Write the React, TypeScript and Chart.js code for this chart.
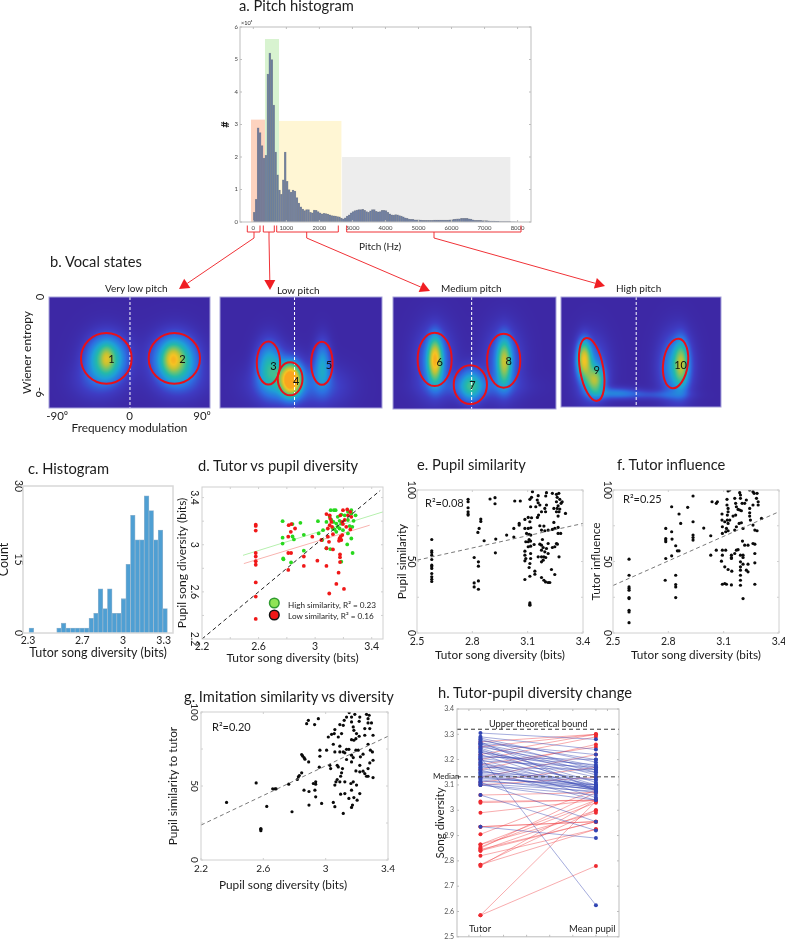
import React, { useEffect, useRef } from "react";
import { Chart, registerables } from "chart.js";
Chart.register(...registerables);

const FONT = "Lato, 'Open Sans', sans-serif";

// ---------- a. pitch histogram ----------
const pitchCounts = [.3,.7,2.9,2.75,2.35,1.97,2.05,4.55,5.2,5.0,3.6,2.15,1.45,.98,.85,1.3,2.15,1.25,1.0,.92,.98,.95,.75,.58,.47,.4,.35,.38,.38,.3,.28,.37,.36,.32,.28,.25,.27,.26,.24,.22,.2,.19,.18,.17,.16,.12,.1,.13,.18,.22,.28,.32,.35,.37,.38,.38,.39,.36,.32,.3,.34,.38,.38,.33,.31,.32,.36,.36,.35,.3,.25,.22,.21,.23,.22,.2,.18,.16,.13,.11,.09,.08,.08,.07,.07,.07,.06,.05,.05,.05,.05,.05,.05,.06,.06,.06,.06,.06,.06,.06,.06,.07,.07,.08,.09,.1,.1,.11,.11,.11,.11,.1,.09,.07,.05,.05,.05,.05,.04,.04,.04,.035,.03,.03,.025,.02,.02,.015,.015,.01,.01,.01,.01,.005,.005,.002];
const pitchBinStart = 30;
const pitchBinWidth = 58.6;
const pitchTicksX = [0,1000,2000,3000,4000,5000,6000,7000,8000];
const pitchTicksY = [0,1,2,3,4,5,6];
const pitchBands = [
  { from: -70, to: 353, top: 3.15, color: "#fdd3bf" },
  { from: 353, to: 778, top: 5.63, color: "#d8f3d0" },
  { from: 778, to: 2667, top: 3.11, color: "#fff6d4" },
  { from: 2687, to: 7780, top: 2.0, color: "#ededed" },
];

// ---------- b. vocal states: [cx, cy, sx, sy, peak]; ellipses: [cx, cy, rx, ry, tilt, label] ----------
const veryLowBlobs = [[-29,-3.85,15,.9,.5],[-29,-3.85,5,.5,.2],[-29,-3.9,22,1.3,.12],[56,-3.9,16,.95,.54],[53,-3.9,7,.55,.27],[56,-3.9,24,1.3,.12],[-45,-5.3,20,.8,.1],[65,-5.3,22,.8,.1]];
const lowBlobs = [[-40,-4.3,11,1.1,.4],[-13,-5.2,8,.65,.9],[-15,-5.0,14,1.0,.2],[26,-4.2,7,1.05,.33],[-25,-5.5,28,.9,.18],[30,-5.6,22,.9,.13]];
const mediumBlobs = [[-49,-3.9,6,.95,.72],[-5,-5.5,10,.75,.42],[36,-4,6,1.0,.56],[-50,-4,16,1.5,.25],[35,-4,16,1.5,.22],[0,-5.6,40,.5,.12]];
const highBlobs = [[-72,-3.9,6,.8,.7],[-58,-5.3,8,.6,.52],[-62,-4.6,14,1.4,.25],[50,-4.2,6,1.0,.46],[43,-4.4,14,1.4,.36],[-30,-6.1,20,.25,.25],[20,-6.2,25,.2,.12]];
const veryLowStates = [[-28.8,-3.87,31.5,1.6,0,"1"],[55.7,-3.87,31.9,1.6,0,"2"]];
const lowStates = [[-40.2,-4.16,14.4,1.36,0,"3"],[-13.4,-5.16,15.3,1.04,0,"4"],[25.8,-4.18,13.2,1.36,0,"5"]];
const mediumStates = [[-48.9,-3.9,20.9,1.67,0,"6"],[-5.1,-5.48,20.4,1.21,0,"7"],[35.8,-3.98,20.4,1.69,0,"8"]];
const highStates = [[-61.6,-4.61,14.6,2.03,-10,"9"],[43.2,-4.23,15.4,1.59,8,"10"]];
const heatStops = [[0,61,40,165],[.1,62,60,195],[.22,45,110,225],[.35,30,160,215],[.48,35,185,170],[.62,110,195,110],[.75,190,195,55],[.88,245,195,35],[1,250,165,30]];

// ---------- c. histogram ----------
const diversityCounts = [1,0,0,0,0,0,1,2,1,1,1,1,1,3,4,9,5,9,4,4,7,14,24,19,19,28,25,19,21,5];
const diversityBinStart = 2.3246;
const diversityBinWidth = 0.034;

// ---------- d. tutor vs pupil ----------
const highSimilarity = [[2.77,3.2],[2.84,3.175],[2.896,3.186],[3.02,3.2],[2.77,3.06],[2.77,3.01],[2.84,3.07],[2.85,3.045],[2.92,3.084],[3.025,3.096],[3.056,3.124],[3.05,3.04],[3.11,3.293],[3.133,3.293],[3.145,3.293],[3.08,3.194],[3.185,3.256],[3.115,3.21],[3.15,3.18],[3.16,3.152],[3.138,3.13],[3.185,3.18],[3.173,3.203],[3.256,3.293],[3.286,3.25],[3.272,3.203],[3.232,3.21],[3.209,3.25],[3.244,3.158],[3.263,3.152],[3.232,3.096],[3.256,3.053],[3.227,3.003],[3.08,2.97],[3.107,2.963],[3.265,2.93],[3.185,2.856],[2.92,2.95],[2.774,2.884],[2.776,2.876],[2.83,2.85],[3.126,3.138],[3.15,3.11],[3.173,3.138],[3.197,3.124],[3.103,3.237],[3.13,3.194],[3.16,3.237],[3.256,3.265],[3.232,3.279]];
const lowSimilarity = [[2.58,3.17],[2.58,3.16],[2.58,3.12],[2.58,2.93],[2.58,2.9],[2.58,2.86],[2.58,2.83],[2.58,2.68],[2.58,2.56],[2.58,2.37],[2.813,3.166],[2.832,3.175],[2.858,3.138],[2.81,3.068],[2.828,3.11],[2.92,2.9],[2.92,2.82],[2.81,2.93],[2.83,2.93],[2.81,2.786],[2.98,3.068],[3.016,2.865],[3.08,3.26],[3.103,3.25],[3.107,3.22],[3.115,3.194],[3.103,3.166],[3.09,3.138],[3.12,3.152],[3.126,3.09],[3.09,3.068],[3.098,3.025],[3.044,3.04],[3.08,2.97],[3.126,2.96],[3.173,3.053],[3.169,3.034],[3.185,3.04],[3.18,3.068],[3.192,3.082],[3.197,3.293],[3.227,3.3],[3.249,3.279],[3.178,3.25],[3.209,3.21],[3.197,3.175],[3.22,3.152],[3.192,3.194],[3.256,3.237],[3.232,3.25],[3.249,3.13],[3.176,2.918],[3.176,2.893],[3.176,2.853],[3.166,2.763],[3.15,2.667],[3.204,2.625],[3.1,2.586],[3.08,2.82]];
const diagonalLine = [[2.2,2.2],[3.46,3.46]];
const highFit = [[2.49,2.91],[3.48,3.279]];
const lowFit = [[2.496,2.84],[3.386,3.166]];

// ---------- e. pupil similarity ----------
const pupilSimilarity = [[2.58,65.4],[2.58,57.5],[2.58,56.3],[2.58,54.4],[2.58,51.4],[2.58,47.4],[2.58,46.3],[2.58,45.1],[2.58,41.6],[2.58,39.3],[2.58,37.6],[2.58,36],[2.777,93.5],[2.777,91.8],[2.777,87.6],[2.777,84.8],[2.777,83.2],[2.777,82.5],[2.846,79.7],[2.846,78],[2.837,73.1],[2.83,70.3],[2.864,64.5],[2.81,52.8],[2.81,35],[2.81,32.2],[2.833,36.4],[2.833,30.6],[2.833,49.8],[2.833,46.7],[2.896,93.7],[2.923,94.6],[2.923,90.4],[2.927,65.7],[2.925,56.1],[2.986,68.5],[3.025,67.1],[3.025,73.1],[3.054,76.6],[3.054,75.5],[3.03,92.3],[3.06,92.3],[3.126,98.8],[3.202,98.1],[3.234,97.7],[3.256,97],[3.269,97.7],[3.157,96],[3.112,93.5],[3.121,94.9],[3.152,93],[3.157,91.1],[3.198,95.8],[3.26,94.9],[3.274,93.5],[3.287,91.8],[3.281,90.7],[3.256,91.8],[3.265,89],[3.242,87.1],[3.26,87.1],[3.274,86.7],[3.202,89.5],[3.166,89.5],[3.144,88.3],[3.116,88.3],[3.193,87.1],[3.175,84.8],[3.197,84.8],[3.159,82.5],[3.153,80.8],[3.121,80.6],[3.103,80.8],[3.085,79.4],[3.256,84.8],[3.27,84.8],[3.305,83.6],[3.265,81.8],[3.112,77.8],[3.085,73.1],[3.103,73.1],[3.117,73.6],[3.094,69.6],[3.108,68.9],[3.117,68.5],[3.108,65.4],[3.09,63.8],[3.103,63.8],[3.116,64.3],[3.116,60.7],[3.103,60.3],[3.135,61.9],[3.166,62.1],[3.175,72],[3.193,71.5],[3.211,72],[3.234,72.4],[3.247,73.1],[3.265,73.8],[3.242,77.3],[3.188,74.8],[3.166,75],[3.265,69.6],[3.279,69.6],[3.256,62.6],[3.234,59.8],[3.211,62.6],[3.18,65.4],[3.175,61.4],[3.184,59.8],[3.202,59.1],[3.175,57.9],[3.193,56.8],[3.211,55.6],[3.175,53.3],[3.188,53.3],[3.184,50.9],[3.175,49.8],[3.198,52.8],[3.27,53.3],[3.085,57.2],[3.085,54.4],[3.09,52.1],[3.085,50.5],[3.116,55.6],[3.116,52.1],[3.112,48.6],[3.108,45.8],[3.157,53.3],[3.139,43.2],[3.112,39.7],[3.139,41.1],[3.085,37.4],[3.175,38.8],[3.188,36.9],[3.197,35.7],[3.211,35.3],[3.22,35.3],[3.247,40.9],[3.229,44.4],[3.112,21],[3.112,20],[3.112,19.4],[3.247,60.3],[3.261,62.1]];
const pupilSimilarityFit = [[2.5,50.9],[3.4,76.6]];

// ---------- f. tutor influence ----------
const tutorInfluence = [[2.587,51.6],[2.587,40.4],[2.587,32.2],[2.587,31.1],[2.587,29.9],[2.587,24.8],[2.587,24.1],[2.587,15.9],[2.587,14.7],[2.587,7.2],[2.786,73.1],[2.786,66.1],[2.786,65],[2.786,63.8],[2.786,52.1],[2.783,36.9],[2.818,88.3],[2.818,70.8],[2.82,65.7],[2.818,54],[2.84,61],[2.849,57.5],[2.858,57.5],[2.858,83.2],[2.867,76.6],[2.84,40.4],[2.84,33.9],[2.84,32.2],[2.84,24.8],[2.905,87.9],[2.934,95.8],[2.934,77.8],[2.934,68.5],[2.934,66.8],[2.934,65],[2.992,73.4],[3.03,68],[3.03,54.4],[3.037,91.8],[3.06,90.7],[3.066,91.8],[3.06,57.9],[3.124,99.3],[3.133,100],[3.118,93.5],[3.118,89.5],[3.124,87.1],[3.124,84.8],[3.12,82.5],[3.091,83.2],[3.091,79],[3.106,77.8],[3.12,79],[3.133,79],[3.124,76.6],[3.093,74.3],[3.115,73.1],[3.093,69.6],[3.111,70.8],[3.124,71.5],[3.16,94.2],[3.165,90.7],[3.169,88.3],[3.187,98.1],[3.191,96.5],[3.191,94.2],[3.223,93],[3.214,90.7],[3.2,90.7],[3.178,86.4],[3.187,86],[3.196,85.5],[3.165,82.5],[3.151,81.8],[3.169,74.3],[3.16,72],[3.184,76.6],[3.196,77.1],[3.205,73.1],[3.241,100],[3.259,98.8],[3.265,97.7],[3.281,97.7],[3.278,94.2],[3.287,91.8],[3.287,89.5],[3.241,87.1],[3.241,84.1],[3.241,81.8],[3.245,79],[3.259,89.5],[3.259,75.5],[3.269,72],[3.281,71.5],[3.305,80.1],[3.202,64.3],[3.214,61.4],[3.232,61.4],[3.259,62.6],[3.269,62.1],[3.269,55.6],[3.093,57.9],[3.111,57.9],[3.093,54.4],[3.088,50.2],[3.106,46.3],[3.124,44.4],[3.144,43.2],[3.142,54.4],[3.142,52.8],[3.142,52.1],[3.169,57.9],[3.178,58.3],[3.191,54.4],[3.205,54.4],[3.191,49.8],[3.191,46.3],[3.191,43.9],[3.191,40.4],[3.191,36.9],[3.191,33.4],[3.093,34.1],[3.106,34.6],[3.115,34.1],[3.142,33.6],[3.205,48.1],[3.232,48.1],[3.223,43.9],[3.232,42.8],[3.269,49.1],[3.269,34.1],[3.205,24.1],[3.16,55.6],[3.205,52.8]];
const tutorInfluenceFit = [[2.5,33.2],[3.4,84.8]];

// ---------- g. imitation similarity ----------
const imitationSimilarity = [[2.364,38.9],[2.554,52.1],[2.622,36.2],[2.584,21.3],[2.584,20.7],[2.584,19.8],[2.66,48.1],[2.675,48.1],[2.682,48.1],[2.763,51.2],[2.784,32.6],[2.818,54.4],[2.825,56.2],[2.831,57.1],[2.846,58.9],[2.846,71.2],[2.852,70.3],[2.861,69.2],[2.867,68.1],[2.891,66.3],[2.861,47.2],[2.893,46.3],[2.893,37.1],[2.878,92.1],[2.889,94.4],[2.929,91.5],[2.953,95.5],[2.921,51.7],[2.936,52.8],[2.936,51.2],[2.931,47.2],[2.936,42.7],[2.974,38.2],[2.959,62.7],[2.963,74.2],[2.963,70.1],[3.006,74.2],[3.151,99.6],[3.187,98.4],[3.262,98.4],[3.279,97.8],[3.134,96.6],[3.166,96.6],[3.219,96.6],[3.119,94.4],[3.166,93.3],[3.215,93.7],[3.272,95.5],[3.294,92.6],[3.272,92.6],[3.091,91.5],[3.113,91],[3.177,89.9],[3.181,87.6],[3.251,88.8],[3.283,88.8],[3.059,88.1],[3.038,84.9],[3.055,85.4],[3.081,83.1],[3.102,85.4],[3.198,85.4],[3.251,84.3],[3.304,84.3],[3.166,81.3],[3.181,80.9],[3.194,82],[3.215,83.6],[3.017,83.1],[3.049,78.2],[3.091,76.9],[3.134,74.8],[3.149,74.8],[3.059,73],[3.091,73],[3.113,73],[3.123,72.4],[3.194,74.2],[3.209,74.2],[3.287,74.2],[3.3,73],[3.272,78.2],[3.166,70.8],[3.177,69.2],[3.24,71.5],[3.223,69.7],[3.304,67.4],[3.283,65.6],[3.134,67.9],[3.166,66.3],[3.219,64],[3.027,64],[3.032,61.8],[3.074,64],[3.081,62.9],[3.108,61.8],[3.102,58.9],[3.096,56.6],[3.194,60.2],[3.219,59.6],[3.24,60],[3.251,58.4],[3.272,61.8],[3.262,56.6],[3.272,56.6],[3.304,55.7],[3.074,54.4],[3.066,52.8],[3.059,50.6],[3.091,52.8],[3.123,52.8],[3.162,51.7],[3.177,52.8],[3.198,50.6],[3.166,47.2],[3.219,44.9],[3.096,44.5],[3.123,44.9],[3.149,41.6],[3.181,42.2],[3.202,40.4],[3.172,37.1],[3.166,35.5],[3.049,38.9],[3.059,36],[3.113,31.5]];
const imitationFit = [[2.2,23.6],[3.4,83.6]];

// ---------- h. tutor to pupil change ----------
const tutorDiversity = [3.305,3.29,3.285,3.28,3.27,3.265,3.26,3.25,3.24,3.235,3.23,3.22,3.21,3.205,3.2,3.19,3.18,3.17,3.165,3.16,3.14,3.13,3.12,3.1,3.11,3.06,2.935,3.1,3.15,3.21,3.275,3.262,3.255,3.245,3.228,3.215,3.195,3.185,3.175,3.155,3.145,3.135,3.125,3.115,3.105,2.585,2.585,2.78,2.785,2.82,2.84,2.845,2.855,2.865,2.85,2.905,2.935,2.935,2.99,3.035,3.03,3.06,3.1,3.11,3.13,3.16,3.18,3.2,3.22,3.25,3.27,2.785,2.84,2.865];
const pupilDiversity = [3.28,3.24,3.19,3.16,3.08,3.22,3.15,3.17,3.09,3.13,3.1,3.08,2.625,3.15,3.08,3.05,3.1,3.16,3.09,3.04,3.08,3.09,3.07,3.04,2.955,2.92,2.89,3.06,3.12,3.2,3.2,3.175,3.14,3.11,3.16,3.18,3.17,3.12,3.09,3.085,3.1,3.08,3.1,3.085,3.075,2.78,3.035,3.04,2.925,2.925,2.955,2.955,3.03,3.04,3.07,3.08,2.955,2.955,3.04,3.04,3.04,3.07,3.13,3.17,3.22,3.26,3.25,3.29,3.3,3.3,3.3,3.0,3.0,2.99];
const upperBound = 3.32;
const medianDiversity = 3.132;
const songTicks = [2.5,2.6,2.7,2.8,2.9,3,3.1,3.2,3.3,3.4];

// ---------- plugins ----------
const framePlugin = {
  id: "frame",
  afterDatasetsDraw(chart: any, _a: any, o: any) {
    const { ctx, chartArea: a, scales } = chart;
    ctx.save();
    ctx.strokeStyle = o.color || "#c9c9c9";
    ctx.lineWidth = o.width || 1;
    ctx.strokeRect(a.left, a.top, a.right - a.left, a.bottom - a.top);
    const len = o.len || 0;
    ctx.beginPath();
    (o.xTicks || []).forEach((v: number) => {
      const p = scales.x.getPixelForValue(v);
      ctx.moveTo(p, a.bottom); ctx.lineTo(p, a.bottom - len);
      ctx.moveTo(p, a.top); ctx.lineTo(p, a.top + len);
    });
    (o.yTicks || []).forEach((v: number) => {
      const p = scales.y.getPixelForValue(v);
      ctx.moveTo(a.left, p); ctx.lineTo(a.left + len, p);
      ctx.moveTo(a.right, p); ctx.lineTo(a.right - len, p);
    });
    ctx.stroke();
    ctx.restore();
  },
};

const bandsPlugin = {
  id: "bands",
  beforeDatasetsDraw(chart: any, _a: any, o: any) {
    const { ctx, scales } = chart;
    (o.items || []).forEach((b: any) => {
      const l = scales.x.getPixelForValue(b.from), r = scales.x.getPixelForValue(b.to);
      const t = scales.y.getPixelForValue(b.top), z = scales.y.getPixelForValue(0);
      ctx.fillStyle = b.color;
      ctx.fillRect(l, t, r - l, z - t);
    });
  },
};

function heatColor(v: number) {
  const t = Math.min(1, Math.max(0, v));
  for (let i = 1; i < heatStops.length; i++) {
    if (t <= heatStops[i][0]) {
      const a = heatStops[i - 1], b = heatStops[i];
      const f = (t - a[0]) / (b[0] - a[0]);
      return [a[1] + (b[1] - a[1]) * f, a[2] + (b[2] - a[2]) * f, a[3] + (b[3] - a[3]) * f];
    }
  }
  return heatStops[heatStops.length - 1].slice(1);
}

const heatPlugin = {
  id: "heat",
  beforeDatasetsDraw(chart: any, _a: any, o: any) {
    const { ctx, chartArea: a, scales } = chart;
    const left = Math.round(a.left), top = Math.round(a.top);
    const w = Math.round(a.right - a.left), h = Math.round(a.bottom - a.top);
    const img = ctx.createImageData(w, h);
    for (let j = 0; j < h; j++) {
      const vy = scales.y.getValueForPixel(top + j);
      for (let i = 0; i < w; i++) {
        const vx = scales.x.getValueForPixel(left + i);
        let v = 0;
        for (const b of o.blobs) {
          const dx = (vx - b[0]) / b[2], dy = (vy - b[1]) / b[3];
          v += b[4] * Math.exp(-0.5 * (dx * dx + dy * dy));
        }
        const c = heatColor(v);
        const k = (j * w + i) * 4;
        img.data[k] = c[0]; img.data[k + 1] = c[1]; img.data[k + 2] = c[2]; img.data[k + 3] = 255;
      }
    }
    ctx.putImageData(img, left, top);
    const dashX = scales.x.getPixelForValue(o.center);
    ctx.save();
    ctx.strokeStyle = "#ffffff";
    ctx.lineWidth = 1;
    ctx.setLineDash([3, 2]);
    ctx.beginPath(); ctx.moveTo(dashX, a.top); ctx.lineTo(dashX, a.bottom); ctx.stroke();
    ctx.setLineDash([]);
    for (const e of o.states) {
      const px = scales.x.getPixelForValue(e[0]), py = scales.y.getPixelForValue(e[1]);
      const rx = Math.abs(scales.x.getPixelForValue(e[0] + e[2]) - px);
      const ry = Math.abs(scales.y.getPixelForValue(e[1] + e[3]) - py);
      ctx.strokeStyle = "#e8101a";
      ctx.lineWidth = 2;
      ctx.beginPath();
      ctx.ellipse(px, py, rx, ry, (e[4] * Math.PI) / 180, 0, Math.PI * 2);
      ctx.stroke();
      ctx.fillStyle = "#111";
      ctx.font = `11px ${FONT}`;
      ctx.textAlign = "center";
      ctx.textBaseline = "middle";
      ctx.fillText(e[5], px + numberShift(e[5]), py + numberShiftY(e[5]));
    }
    ctx.restore();
  },
};
function numberShift(l: string) { return ({ "1": 5, "2": 8, "3": 5, "4": 6, "5": 7, "6": 5, "7": 2, "8": 5, "9": 5, "10": 5 } as any)[l] || 0; }
function numberShiftY(l: string) { return ({ "1": 1, "2": 1, "3": 3, "4": 3, "5": 2, "6": 3, "7": 1, "8": 1, "9": 1, "10": 2 } as any)[l] || 0; }

// ---------- helpers ----------
const pairs = (list: number[][]) => list.map(([x, y]) => ({ x, y }));
const fmt = (v: any) => String(v);

function axis(min: number, max: number, ticks: number[], o: any) {
  return {
    type: "linear", min, max, offset: false,
    grid: { display: false, drawTicks: false },
    border: { display: false },
    ticks: {
      autoSkip: false,
      font: { family: FONT, size: o.size || 11 },
      color: o.color || "#222",
      padding: o.pad ?? 2,
      minRotation: o.rot || 0, maxRotation: o.rot || 0,
      crossAlign: o.rot ? "center" : "near",
      display: o.hideTicks ? false : true,
      callback: o.label || fmt,
    },
    afterBuildTicks: (s: any) => { s.ticks = ticks.map((value) => ({ value })); },
    afterFit: (s: any) => { if (s.isHorizontal()) s.height = o.fixed; else s.width = o.fixed; },
    title: o.title
      ? { display: true, text: o.title, font: { family: FONT, size: o.titleSize || 12, weight: o.titleWeight || "normal" }, color: "#1c1c1c", padding: 0 }
      : { display: false },
  };
}

function base(x: any, y: any, plugins: any) {
  return {
    responsive: false, maintainAspectRatio: false, animation: false,
    layout: { padding: { top: 12, right: 28, left: 0, bottom: 0 } },
    scales: { x, y },
    plugins: { legend: { display: false }, tooltip: { enabled: false }, ...plugins },
  };
}

function Panel({ box, axL, axB, make }: any) {
  const ref = useRef<HTMLCanvasElement | null>(null);
  const width = box.r - box.l + axL + 28;
  const height = box.b - box.t + axB + 12;
  useEffect(() => {
    const chart = new Chart(ref.current as any, make(axL, axB));
    return () => chart.destroy();
  }, []);
  return (
    <canvas ref={ref} width={width} height={height}
      style={{ position: "absolute", left: box.l - axL, top: box.t - 12, width, height, display: "block" }} />
  );
}

const dots = (list: number[][], color: string, r = 1.7) => ({
  type: "scatter", data: pairs(list), backgroundColor: color, borderWidth: 0, pointRadius: r,
});
const dashLine = (list: number[][], color: string, dash = [4, 3], w = 1) => ({
  type: "scatter", data: pairs(list), showLine: true, borderColor: color, borderWidth: w, borderDash: dash, pointRadius: 0,
});

// ---------- chart configs ----------
const makePitch = (axL: number, axB: number) => ({
  type: "bar",
  plugins: [bandsPlugin, framePlugin],
  data: {
    datasets: [{
      data: pitchCounts.map((y, i) => ({ x: pitchBinStart + i * pitchBinWidth, y })),
      backgroundColor: "rgba(62,88,150,0.58)", borderColor: "rgba(125,130,135,0.75)", borderWidth: 0.5,
      barPercentage: 1, categoryPercentage: 1,
    }],
  },
  options: base(
    axis(-403, 8406, pitchTicksX, { size: 6, color: "#444", pad: 2, fixed: axB }),
    axis(0, 6, pitchTicksY, { size: 6, color: "#444", pad: 2, fixed: axL, title: "#", titleSize: 11, titleWeight: "bold" }),
    { bands: { items: pitchBands }, frame: { color: "#bdbdbd", width: 1, len: 2, xTicks: pitchTicksX, yTicks: pitchTicksY } }),
});

const makeHeat = (blobs: any, states: any, center: number, withAxes: boolean) => (axL: number, axB: number) => ({
  type: "scatter",
  plugins: [heatPlugin, framePlugin],
  data: { datasets: [] },
  options: base(
    axis(-100, 100, withAxes ? [-90, 0, 90] : [], {
      size: 11.5, pad: 1, fixed: axB, hideTicks: !withAxes,
      label: (v: number) => (v === 0 ? "0" : `${v}\u2070`),
      title: withAxes ? "Frequency modulation" : undefined, titleSize: 11.8,
    }),
    axis(-7, 0, withAxes ? [-6, 0] : [], {
      size: 11, rot: -90, pad: 4, fixed: axL, hideTicks: !withAxes,
      title: withAxes ? "Wiener entropy" : undefined, titleSize: 12,
    }),
    { heat: { blobs, states, center }, frame: { color: "#a6a1da", width: 1 } }),
});

const makeHistogram = (axL: number, axB: number) => ({
  type: "bar",
  plugins: [framePlugin],
  data: {
    datasets: [{
      data: diversityCounts.map((y, i) => ({ x: diversityBinStart + i * diversityBinWidth, y })),
      backgroundColor: "#4f9fd3", borderColor: "#8fb4cf", borderWidth: 0.8, barPercentage: 1, categoryPercentage: 1,
    }],
  },
  options: base(
    axis(2.263, 3.369, [2.3, 2.7, 3, 3.3], { size: 10.5, pad: 1, fixed: axB, title: "Tutor song diversity (bits)", titleSize: 12.5 }),
    axis(0, 30, [0, 15, 30], { size: 10.5, rot: -90, pad: -1, fixed: axL, title: "Count", titleSize: 12.5 }),
    { frame: { color: "#d8d8d8", width: 1.5 } }),
});

const makeTutorPupil = (axL: number, axB: number) => ({
  type: "scatter",
  plugins: [framePlugin],
  data: {
    datasets: [
      dashLine(diagonalLine, "#222"),
      dots(lowSimilarity, "#f01818", 1.9),
      dots(highSimilarity, "#28d81e", 1.9),
      dashLine(highFit, "#b6f0ae", [], 1),
      dashLine(lowFit, "#f8b4b0", [], 1),
    ],
  },
  options: base(
    axis(2.2, 3.48, [2.2, 2.6, 3, 3.4], { size: 10.5, pad: 1.5, fixed: axB, title: "Tutor song diversity (bits)" }),
    axis(2.2, 3.49, [2.2, 2.6, 3, 3.4], { size: 10.5, rot: -90, pad: 0, fixed: axL, title: "Pupil song diversity (bits)" }),
    { frame: { color: "#d0d0d0", width: 1, len: 2, xTicks: [2.4, 2.6, 2.8, 3, 3.2, 3.4], yTicks: [2.4, 2.6, 2.8, 3, 3.2, 3.4] } }),
});

const makeSimilarity = (points: number[][], fit: number[][], yTitle: string, size = 10.5, xTitle?: string, xr = [2.5, 3.4], xt = [2.5, 2.8, 3.1, 3.4], pad = -4) => (axL: number, axB: number) => ({
  type: "scatter",
  plugins: [framePlugin],
  data: { datasets: [dashLine(fit, "#6a6a6a", [4, 3], 0.9), dots(points, "#0a0a0a", 1.6)] },
  options: base(
    axis(xr[0], xr[1], xt, { size, pad: 2.5, fixed: axB, title: xTitle, titleSize: 11.8 }),
    axis(0, 100, [0, 50, 100], { size, rot: -90, pad, fixed: axL, title: yTitle, titleSize: 11.8 }),
    { frame: { color: "#d0d0d0", width: 1, len: 2, xTicks: xt, yTicks: [0, 25, 50, 75, 100] } }),
});

const makeChange = (axL: number, axB: number) => ({
  type: "scatter",
  plugins: [framePlugin],
  data: {
    datasets: [
      dashLine([[-0.203, upperBound], [1.2, upperBound]], "#333", [4, 3], 1),
      dashLine([[-0.203, medianDiversity], [1.2, medianDiversity]], "#444", [4, 3], 1),
      ...tutorDiversity.map((t, i) => {
        const rising = pupilDiversity[i] > t;
        return {
          type: "scatter", showLine: true,
          data: [{ x: 0, y: t }, { x: 1, y: pupilDiversity[i] }],
          borderColor: rising ? "rgba(240,70,75,0.5)" : "rgba(55,70,180,0.5)",
          borderWidth: 0.9, pointRadius: 2,
          backgroundColor: rising ? "#ee2a30" : "#3246b4", pointBorderWidth: 0,
        };
      }),
    ],
  },
  options: base(
    axis(-0.203, 1.2, [], { fixed: axB, hideTicks: true }),
    axis(2.5, 3.4, songTicks, { size: 7, color: "#555", pad: 3, fixed: axL, title: "Song diversity", titleSize: 11.5 }),
    { frame: { color: "#bdbdbd", width: 1, len: 2, xTicks: [-0.1, 0, 0.2, 0.4, 0.6, 0.8, 1, 1.1], yTicks: songTicks } }),
});

// ---------- page text ----------
const headings: [string, number, number, number][] = [
  ["a. Pitch histogram", 239, 6, 14.7],
  ["b. Vocal states", 50, 262, 14.7],
  ["c. Histogram", 28, 469, 14.7],
  ["d. Tutor vs pupil diversity", 198, 466, 14.7],
  ["e. Pupil similarity", 417, 465, 14.7],
  ["f. Tutor influence", 617, 465, 14.7],
  ["g. Imitation similarity vs diversity", 184, 697, 14.7],
  ["h. Tutor-pupil diversity change", 438, 693, 14.7],
];
const captions: [string, number, number, number][] = [
  ["\u00d710\u2074", 241, 23, 5.5],
  ["Pitch (Hz)", 359, 246, 10],
  ["Very low pitch", 105, 288, 10],
  ["Low pitch", 277, 290, 10],
  ["Medium pitch", 441, 288, 10],
  ["High pitch", 616, 288, 10],
  ["High similarity, R\u00b2 = 0.23", 288, 606, 8.2],
  ["Low similarity,  R\u00b2 = 0.16", 288, 617, 8.2],
  ["R\u00b2=0.08", 425, 503, 11],
  ["R\u00b2=0.25", 623, 499, 11],
  ["R\u00b2=0.20", 212, 727, 11],
  ["Pupil song diversity (bits)", 219, 885, 11.8],
  ["Upper theoretical bound", 489, 724, 9.2],
  ["Median", 433, 777, 8],
  ["Tutor", 469, 929, 9.5],
  ["Mean pupil", 569, 929, 9.5],
];
const brackets = [
  { l: 247.3, r: 260, m: 254, tip: [179, 289] },
  { l: 263.3, r: 274.3, m: 269, tip: [270, 290] },
  { l: 276.7, r: 338.3, m: 306.7, tip: [430, 291] },
  { l: 346.7, r: 521, m: 434, tip: [605, 286] },
];

function Overlay() {
  return (
    <svg width={785} height={944} style={{ position: "absolute", left: 0, top: 0, pointerEvents: "none" }}>
      {brackets.map((b, i) => {
        const dx = b.tip[0] - b.m, dy = b.tip[1] - 238;
        const n = Math.hypot(dx, dy), ux = dx / n, uy = dy / n;
        const bx = b.tip[0] - ux * 10, by = b.tip[1] - uy * 10;
        return (
          <g key={i}>
            <path d={`M${b.l} 225.5V232H${b.r}V225.5M${b.m} 232V238L${bx} ${by}`} fill="none" stroke="#f03237" strokeWidth={1} />
            <polygon points={`${b.tip[0]},${b.tip[1]} ${bx - uy * 5.5},${by + ux * 5.5} ${bx + uy * 5.5},${by - ux * 5.5}`} fill="#f01e23" />
          </g>
        );
      })}
      <circle cx={274.3} cy={603} r={4.8} fill="#8fe455" stroke="#2f9a30" strokeWidth={1.5} />
      <circle cx={274.3} cy={615} r={4.8} fill="#f01818" stroke="#111" strokeWidth={1.5} />
    </svg>
  );
}

export default function App() {
  const label = (t: any, i: number) => (
    <div key={i} style={{ position: "absolute", left: t[1], top: t[2], transform: "translateY(-50%)", fontFamily: FONT, fontSize: t[3], color: "#1c1c1c", whiteSpace: "nowrap", lineHeight: 1.2 }}>{t[0]}</div>
  );
  return (
    <div style={{ position: "absolute", left: 0, top: 0, width: 785, height: 944, background: "#fff", overflow: "hidden" }}>
      <Panel box={{ l: 240, t: 27, r: 531, b: 222 }} axL={21} axB={12} make={makePitch} />
      <Panel box={{ l: 49, t: 297, r: 210, b: 408 }} axL={29} axB={27} make={makeHeat(veryLowBlobs, veryLowStates, 0.6, true)} />
      <Panel box={{ l: 220, t: 297, r: 382, b: 408 }} axL={4} axB={4} make={makeHeat(lowBlobs, lowStates, -8, false)} />
      <Panel box={{ l: 393, t: 297, r: 556, b: 409 }} axL={4} axB={4} make={makeHeat(mediumBlobs, mediumStates, -3.5, false)} />
      <Panel box={{ l: 561, t: 297, r: 721, b: 407 }} axL={4} axB={4} make={makeHeat(highBlobs, highStates, -6, false)} />
      <Panel box={{ l: 23, t: 486, r: 173, b: 633 }} axL={27} axB={27} make={makeHistogram} />
      <Panel box={{ l: 202, t: 487, r: 383, b: 639 }} axL={27} axB={26} make={makeTutorPupil} />
      <Panel box={{ l: 417, t: 490, r: 583, b: 633 }} axL={22} axB={29} make={makeSimilarity(pupilSimilarity, pupilSimilarityFit, "Pupil similarity", 10.5, "Tutor song diversity (bits)")} />
      <Panel box={{ l: 613, t: 490, r: 779, b: 633 }} axL={24} axB={29} make={makeSimilarity(tutorInfluence, tutorInfluenceFit, "Tutor influence", 10.5, "Tutor song diversity (bits)")} />
      <Panel box={{ l: 201, t: 712, r: 388, b: 860 }} axL={35} axB={14} make={makeSimilarity(imitationSimilarity, imitationFit, "Pupil similarity to tutor", 10, undefined, [2.2, 3.4], [2.2, 2.6, 3, 3.4], -1.5)} />
      <Panel box={{ l: 457, t: 709, r: 619, b: 938 }} axL={24} axB={6} make={makeChange} />
      <Overlay />
      {headings.map(label)}
      {captions.map((t, i) => label(t, i + 100))}
    </div>
  );
}
